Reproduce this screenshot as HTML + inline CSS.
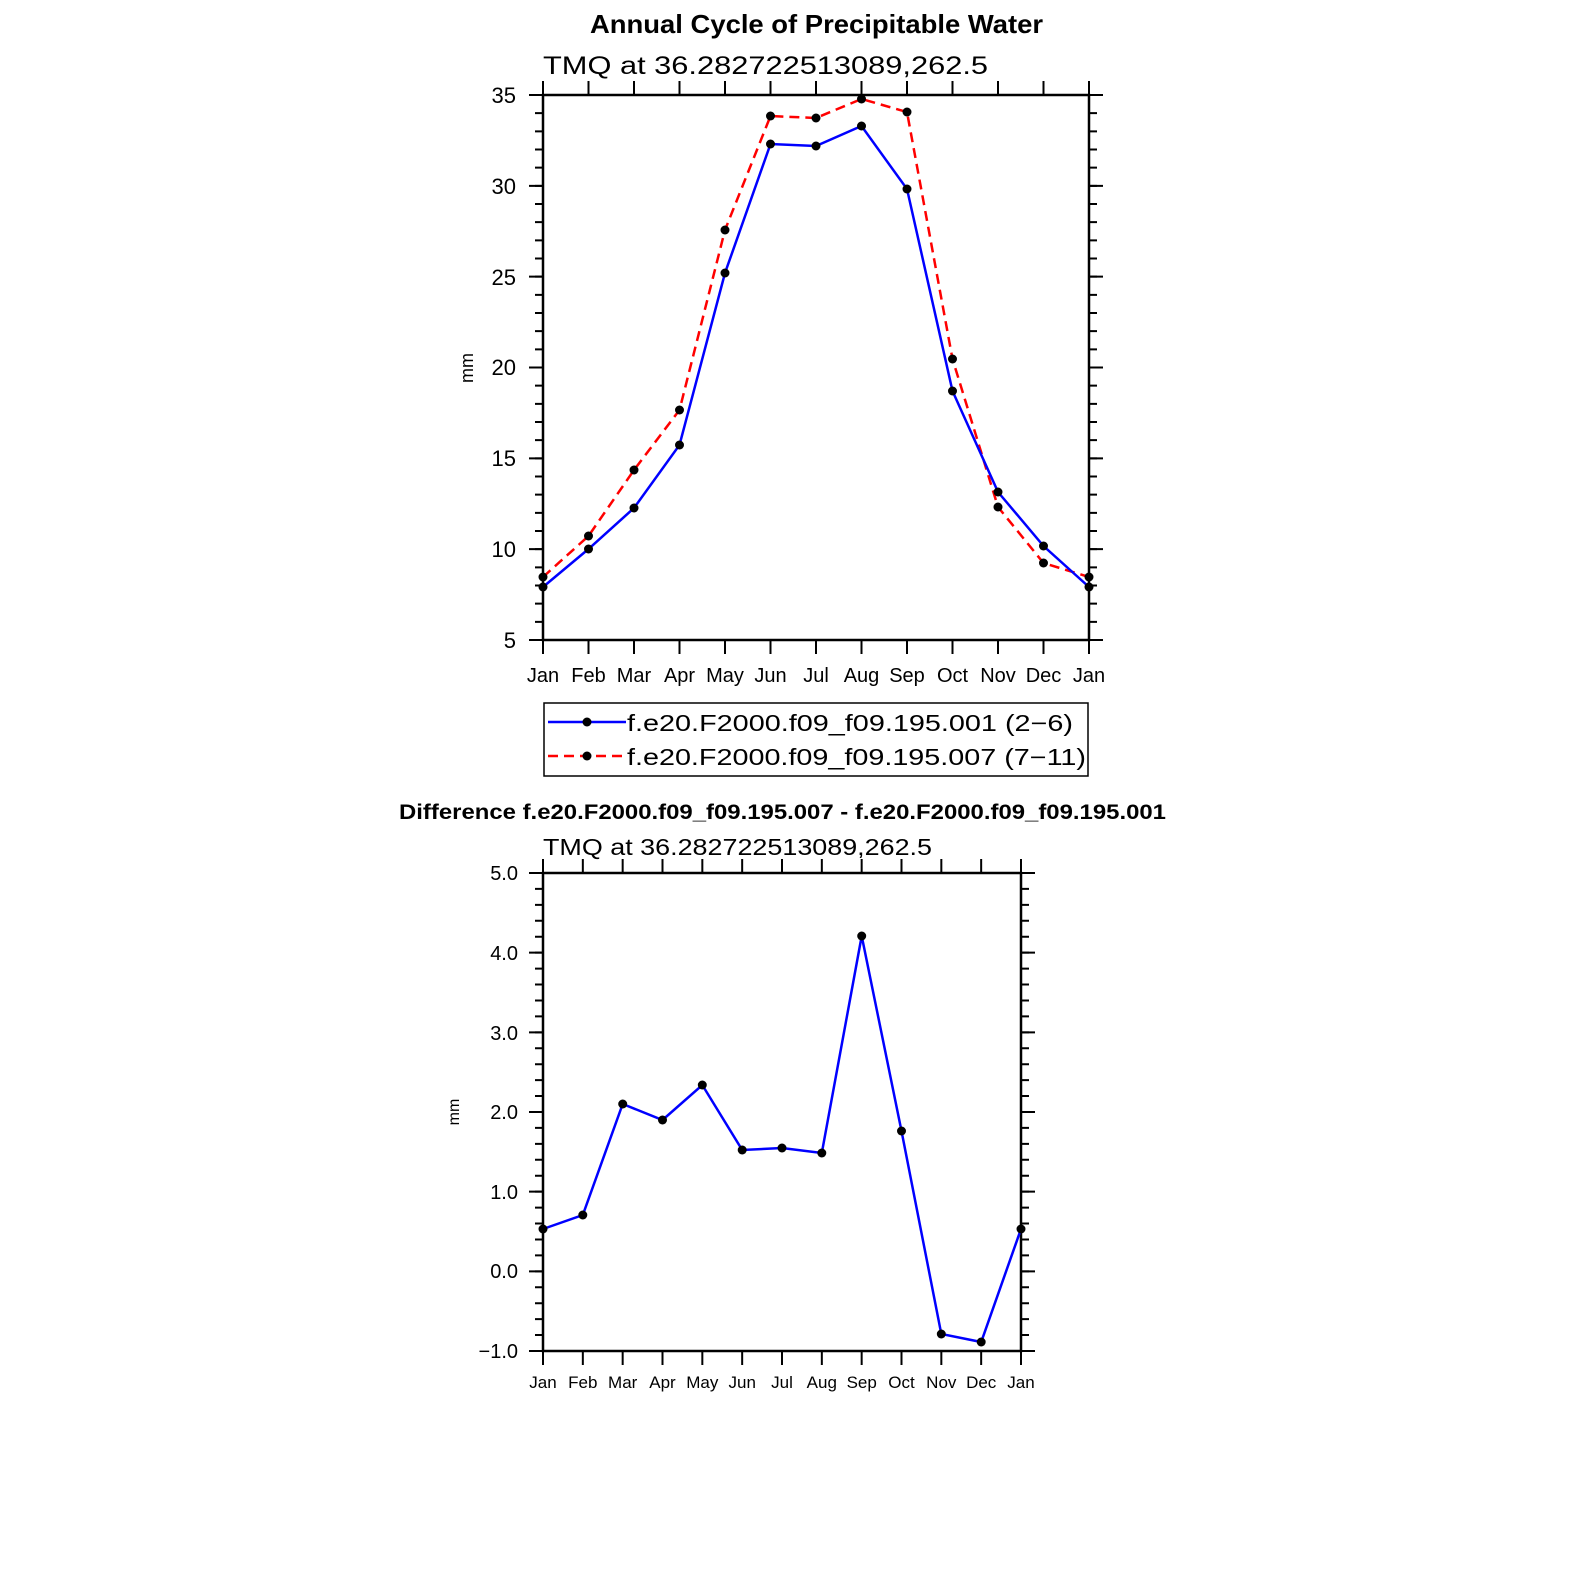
<!DOCTYPE html>
<html><head><style>html,body{margin:0;background:#fff;overflow:hidden}svg{display:block}text{font-family:"Liberation Sans","DejaVu Sans",sans-serif;fill:#000}</style></head>
<body>
<svg width="1574" height="1574" viewBox="0 0 1574 1574" xmlns="http://www.w3.org/2000/svg">
<text x="590" y="33" font-size="26" font-weight="bold" textLength="453" lengthAdjust="spacingAndGlyphs">Annual Cycle of Precipitable Water</text>
<text x="543" y="74" font-size="25" textLength="445" lengthAdjust="spacingAndGlyphs">TMQ  at  36.282722513089,262.5</text>
<g stroke="#000" fill="none">
<rect x="543" y="95" width="546" height="545" stroke-width="2.5"/>
<line x1="539" y1="94" x2="539" y2="641" stroke-width="8" stroke-dasharray="2 16.1667"/>
<line x1="536" y1="94" x2="536" y2="641" stroke-width="14" stroke-dasharray="2 88.833"/>
<line x1="1093" y1="94" x2="1093" y2="641" stroke-width="8" stroke-dasharray="2 16.1667"/>
<line x1="1096" y1="94" x2="1096" y2="641" stroke-width="14" stroke-dasharray="2 88.833"/>
<line x1="542" y1="88" x2="1091" y2="88" stroke-width="14" stroke-dasharray="2 43.5"/>
<line x1="542" y1="647" x2="1091" y2="647" stroke-width="14" stroke-dasharray="2 43.5"/>
</g>
<g font-size="22" text-anchor="end">
<text x="516" y="103">35</text><text x="516" y="194">30</text><text x="516" y="285">25</text><text x="516" y="375">20</text><text x="516" y="466">15</text><text x="516" y="557">10</text><text x="516" y="648">5</text>
</g>
<text transform="translate(473,368) rotate(-90)" font-size="18" text-anchor="middle">mm</text>
<g font-size="20" text-anchor="middle">
<text x="543" y="682">Jan</text><text x="588.5" y="682">Feb</text><text x="634" y="682">Mar</text><text x="679.5" y="682">Apr</text><text x="725" y="682">May</text><text x="770.5" y="682">Jun</text><text x="816" y="682">Jul</text><text x="861.5" y="682">Aug</text><text x="907" y="682">Sep</text><text x="952.5" y="682">Oct</text><text x="998" y="682">Nov</text><text x="1043.5" y="682">Dec</text><text x="1089" y="682">Jan</text>
</g>
<polyline fill="none" stroke="#f00" stroke-width="2.5" stroke-dasharray="10 6" points="543,577 588.5,536 634,470 679.5,410 725,230 770.5,116 816,118 861.5,99 907,112 952.5,359 998,507 1043.5,563 1089,577"/>
<polyline fill="none" stroke="#00f" stroke-width="2.5" points="543,587 588.5,549 634,508 679.5,445 725,273 770.5,144 816,146 861.5,126 907,189 952.5,391 998,492 1043.5,546 1089,587"/>
<g fill="#000">
<circle cx="543" cy="577" r="4.5"/><circle cx="588.5" cy="536" r="4.5"/><circle cx="634" cy="470" r="4.5"/><circle cx="679.5" cy="410" r="4.5"/><circle cx="725" cy="230" r="4.5"/><circle cx="770.5" cy="116" r="4.5"/><circle cx="816" cy="118" r="4.5"/><circle cx="861.5" cy="99" r="4.5"/><circle cx="907" cy="112" r="4.5"/><circle cx="952.5" cy="359" r="4.5"/><circle cx="998" cy="507" r="4.5"/><circle cx="1043.5" cy="563" r="4.5"/><circle cx="1089" cy="577" r="4.5"/>
<circle cx="543" cy="587" r="4.5"/><circle cx="588.5" cy="549" r="4.5"/><circle cx="634" cy="508" r="4.5"/><circle cx="679.5" cy="445" r="4.5"/><circle cx="725" cy="273" r="4.5"/><circle cx="770.5" cy="144" r="4.5"/><circle cx="816" cy="146" r="4.5"/><circle cx="861.5" cy="126" r="4.5"/><circle cx="907" cy="189" r="4.5"/><circle cx="952.5" cy="391" r="4.5"/><circle cx="998" cy="492" r="4.5"/><circle cx="1043.5" cy="546" r="4.5"/><circle cx="1089" cy="587" r="4.5"/>
</g>
<rect x="544" y="703" width="544" height="73" fill="none" stroke="#000" stroke-width="1.5"/>
<line x1="548" y1="722" x2="626" y2="722" stroke="#00f" stroke-width="2.5"/><circle cx="587" cy="722" r="4.5"/>
<line x1="548" y1="756" x2="626" y2="756" stroke="#f00" stroke-width="2.5" stroke-dasharray="10 6"/><circle cx="587" cy="756" r="4.5"/>
<text x="627" y="731" font-size="23" textLength="446" lengthAdjust="spacingAndGlyphs">f.e20.F2000.f09_f09.195.001  (2−6)</text>
<text x="627" y="765" font-size="23" textLength="459" lengthAdjust="spacingAndGlyphs">f.e20.F2000.f09_f09.195.007  (7−11)</text>

<text x="399" y="819" font-size="21" font-weight="bold" textLength="767" lengthAdjust="spacingAndGlyphs">Difference f.e20.F2000.f09_f09.195.007 - f.e20.F2000.f09_f09.195.001</text>
<text x="543" y="855" font-size="23" textLength="389" lengthAdjust="spacingAndGlyphs">TMQ  at  36.282722513089,262.5</text>
<g stroke="#000" fill="none">
<rect x="543" y="873" width="478" height="478" stroke-width="2.5"/>
<line x1="539" y1="872" x2="539" y2="1352" stroke-width="8" stroke-dasharray="2 13.933"/>
<line x1="536" y1="872" x2="536" y2="1352" stroke-width="14" stroke-dasharray="2 77.667"/>
<line x1="1025" y1="872" x2="1025" y2="1352" stroke-width="8" stroke-dasharray="2 13.933"/>
<line x1="1028" y1="872" x2="1028" y2="1352" stroke-width="14" stroke-dasharray="2 77.667"/>
<line x1="542" y1="866" x2="1023" y2="866" stroke-width="14" stroke-dasharray="2 37.833"/>
<line x1="542" y1="1358" x2="1023" y2="1358" stroke-width="14" stroke-dasharray="2 37.833"/>
</g>
<g font-size="20" text-anchor="end">
<text x="518" y="880">5.0</text><text x="518" y="960">4.0</text><text x="518" y="1040">3.0</text><text x="518" y="1119">2.0</text><text x="518" y="1199">1.0</text><text x="518" y="1278">0.0</text><text x="518" y="1358">−1.0</text>
</g>
<text transform="translate(459,1112) rotate(-90)" font-size="16" text-anchor="middle">mm</text>
<g font-size="17" text-anchor="middle">
<text x="543" y="1388">Jan</text><text x="582.8" y="1388">Feb</text><text x="622.7" y="1388">Mar</text><text x="662.5" y="1388">Apr</text><text x="702.3" y="1388">May</text><text x="742.2" y="1388">Jun</text><text x="782" y="1388">Jul</text><text x="821.8" y="1388">Aug</text><text x="861.7" y="1388">Sep</text><text x="901.5" y="1388">Oct</text><text x="941.3" y="1388">Nov</text><text x="981.2" y="1388">Dec</text><text x="1021" y="1388">Jan</text>
</g>
<polyline fill="none" stroke="#00f" stroke-width="2.5" points="543,1229 582.8,1215 622.7,1104 662.5,1120 702.3,1085 742.2,1150 782,1148 821.8,1153 861.7,936 901.5,1131 941.3,1334 981.2,1342 1021,1229"/>
<g fill="#000">
<circle cx="543" cy="1229" r="4.5"/><circle cx="582.8" cy="1215" r="4.5"/><circle cx="622.7" cy="1104" r="4.5"/><circle cx="662.5" cy="1120" r="4.5"/><circle cx="702.3" cy="1085" r="4.5"/><circle cx="742.2" cy="1150" r="4.5"/><circle cx="782" cy="1148" r="4.5"/><circle cx="821.8" cy="1153" r="4.5"/><circle cx="861.7" cy="936" r="4.5"/><circle cx="901.5" cy="1131" r="4.5"/><circle cx="941.3" cy="1334" r="4.5"/><circle cx="981.2" cy="1342" r="4.5"/><circle cx="1021" cy="1229" r="4.5"/>
</g>
</svg>
</body></html>
